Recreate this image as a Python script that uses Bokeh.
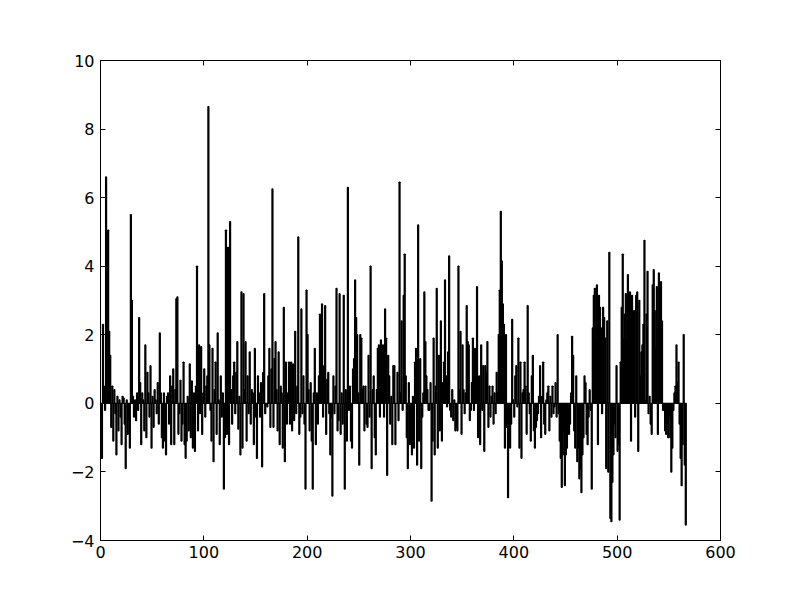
from bokeh.plotting import figure
from bokeh.models import LinearAxis, FixedTicker, Range1d, CustomJSTickFormatter
from bokeh.embed import file_html
from bokeh.resources import INLINE

values = [
    -1.5, -1.6, 2.3, 0.5, -0.2, 6.6, 0.4, 5.05, 2.1, 1.4,
    -0.7, 0.5, -1.1, 0.4, -0.3, -1.5, 0.2, -0.8, 0.1, -0.4,
    -1.2, 0.2, 0.15, -0.6, -1.9, 0.1, -0.9, -0.5, -1.3, 5.5,
    3.0, 0.2, -0.4, 0.1, -0.5, 0.3, -0.2, 2.5, 0.6, -1.2,
    0.3, 0.1, -0.8, 1.7, -1.0, 0.9, 0.3, -0.4, 1.1, -1.3,
    0.2, -0.7, 0.4, 0.1, -0.3, 0.6, -0.6, 2.05, 0.3, -1.0,
    -1.3, 0.3, -1.1, -1.5, 0.2, 0.3, -0.6, 0.8, -1.2, 0.5,
    1.0, -1.2, 0.4, 3.05, 3.1, -0.9, -0.3, 0.67, -1.1, -0.6,
    1.2, -1.2, -1.6, -1.1, 0.2, -0.8, 1.15, -1.0, 0.65, -1.3,
    0.3, -1.4, 0.5, 4.0, -0.8, 1.7, -0.3, 1.65, -0.9, 0.3,
    1.0, -0.4, 0.5, 0.8, 8.65, 1.7, -0.2, -1.1, 1.6, -1.7,
    0.4, 1.2, -0.9, 2.05, 0.1, -1.2, 0.8, -0.4, 0.3, -2.5,
    -1.0, 5.05, -0.9, 4.55, -1.2, 5.3, 0.4, -0.6, 0.8, 1.2,
    -0.3, 0.9, 1.8, -0.75, 0.2, -1.5, 3.25, -1.3, 3.2, 0.4,
    1.8, -1.1, 0.8, -0.3, 1.5, -0.6, 0.4, 0.3, -1.2, 1.6,
    -0.4, -1.6, 0.8, 0.3, -0.4, 0.6, -1.85, 0.9, 3.2, -0.3,
    0.0, -0.1, 0.8, 1.6, -0.7, 1.0, 6.25, -0.7, 1.3, 1.8,
    0.4, -0.8, 1.5, -1.2, 0.5, 0.3, -1.3, 2.8, -1.7, 1.2,
    -0.6, 0.3, 1.2, -0.6, 1.2, -0.8, 1.15, -0.5, 2.1, -0.3,
    0.5, 4.85, -0.9, -0.4, 2.75, -0.3, 0.8, -0.6, -2.5, 3.3,
    2.0, 0.4, -0.8, 0.6, -1.1, -2.5, 0.3, 1.6, -1.2, 0.3,
    -0.6, 0.8, 2.6, 0.2, 2.9, -0.4, 1.1, 2.85, -0.9, 0.7,
    0.9, -0.3, -1.5, -0.4, -2.7, 0.8, -0.3, 0.5, 3.35, -0.8,
    -0.5, 3.2, -0.9, 0.3, -0.6, 3.15, -2.5, 0.4, -1.1, 6.3,
    -0.2, 0.5, -1.1, -1.3, 1.0, 1.3, 3.6, 2.5, 2.0, 0.3,
    -1.8, 2.0, 1.9, 0.4, 0.5, -0.8, 0.5, -0.6, -0.7, 1.4,
    -0.4, 4.0, -1.9, 0.4, 0.8, -1.0, -1.5, 0.4, 1.6, 1.7,
    -0.4, 1.85, 1.6, 1.7, -0.4, 2.75, 1.9, -2.1, 1.4, 0.8,
    -0.6, 0.2, -1.2, 1.1, 1.1, -1.2, 0.0, 0.9, -0.5, 6.45,
    0.3, 2.4, -0.2, 3.15, 4.35, 0.8, -1.0, -1.9, 0.6, -1.2,
    -0.6, -1.5, 0.2, -1.3, 1.2, 1.6, -1.8, 5.2, -1.1, 1.3,
    -1.9, -0.4, 0.3, 3.25, 1.8, 0.8, 0.4, -0.2, -0.2, 0.6,
    -2.85, -1.1, 1.9, -1.5, 0.5, 3.35, -1.3, 1.4, -0.8, 2.4,
    -1.1, 0.6, 1.2, 3.6, 0.8, -0.1, 1.5, 4.3, -0.2, -0.4,
    0.4, -0.5, 0.1, -0.8, -0.7, -0.8, 4.0, 0.4, 2.1, -0.9,
    1.7, 0.4, -0.3, 0.3, 2.85, 1.8, 1.7, -0.5, -0.2, 0.6,
    1.9, -0.2, 1.6, 0.5, 3.4, -1.0, 0.8, -1.2, 1.7, -0.2,
    1.1, -1.4, 1.1, 0.9, 1.8, -0.7, 0.5, -0.4, 0.2, 0.5,
    -0.6, 0.3, -0.3, 0.9, 0.3, 2.0, 3.3, 5.6, 4.15, 2.9,
    2.3, -1.3, 2.0, -0.7, -2.75, -0.6, -1.3, -0.6, 2.45, 0.1,
    -0.4, 0.8, 1.1, -0.1, 1.9, -1.3, 1.2, -1.6, 0.3, 0.4,
    1.2, 0.5, -0.9, 2.85, 0.3, -0.3, -1.1, 0.8, 1.4, -0.8,
    -1.3, -0.7, -0.5, -0.3, 0.2, 1.1, -1.0, 0.2, 1.2, -0.6,
    -0.9, 0.1, 0.3, 0.5, -0.8, 0.2, -0.4, 0.5, -0.3, -0.1,
    0.6, -0.4, 2.0, -0.3, -1.1, -1.6, -2.45, -1.5, -0.8, -2.4,
    -1.5, -1.3, -0.8, -0.9, -0.6, 0.3, 1.95, 1.4, -0.8, -1.3,
    0.8, -1.7, -1.3, -2.2, -1.9, -2.6, -1.5, -1.0, 0.8, 0.6,
    -0.9, -1.2, -0.4, 0.4, -0.2, -2.5, 2.2, 3.15, 3.35, 1.8,
    3.45, -1.2, 3.15, 2.8, 2.2, -0.3, 2.8, 2.5, 1.9, -1.9,
    2.4, -2.0, 4.4, -3.35, -3.45, -2.3, -1.5, -0.6, -1.0, 1.1,
    -1.4, -1.2, -3.4, 1.2, 2.8, 4.35, 1.9, 2.6, 3.2, 1.8,
    3.75, 1.6, 3.25, -1.1, 3.15, 1.0, 2.7, -0.4, 3.15, 3.25,
    -1.4, 3.0, 0.8, 1.5, 1.7, 2.3, 4.75, 0.1, 2.6, 3.85,
    -0.3, 0.2, -0.6, -0.9, 3.45, 3.9, 2.7, 1.6, 3.4, -0.9,
    3.8, 2.1, 3.55, 2.4, -0.2, -0.1, -0.8, -0.9, -0.6, -1.0,
    -0.4, -1.0, -2.0, -1.3, -0.2, 0.3, 0.5, 1.7, 0.6, 1.2,
    -0.6, -1.6, -2.4, -1.2, 2.0, -1.8, -3.55,
]
indices = list(range(len(values)))
x_ticks = [0, 100, 200, 300, 400, 500, 600]
y_ticks = [-4, -2, 0, 2, 4, 6, 8, 10]
y_labels = {-4: "\u22124", -2: "\u22122"}

bar_width = 0.8
p = figure(width=784, height=584,
           x_range=Range1d(0, 600), y_range=Range1d(-4, 10),
           output_backend="svg", toolbar_location=None,
           min_border_left=100, min_border_right=64,
           min_border_top=60, min_border_bottom=44)
p.grid.visible = False
p.outline_line_color = "black"
p.outline_line_width = 1
p.background_fill_color = "white"
p.border_fill_color = "white"

p.vbar(x=[i + bar_width / 2 for i in indices], top=values, bottom=0,
       width=bar_width, fill_color="black", line_color="black", line_width=1.4)

def style(ax, ticks, standoff, show_labels=True, overrides=None):
    ax.ticker = FixedTicker(ticks=ticks)
    ax.major_tick_in = 5
    ax.major_tick_out = 0
    ax.minor_tick_line_color = None
    ax.axis_line_color = "black"
    ax.major_tick_line_color = "black"
    ax.major_label_text_font = "DejaVu Sans"
    ax.major_label_text_font_size = "16px"
    ax.major_label_text_color = "black"
    ax.major_label_standoff = standoff
    if overrides:
        ax.major_label_overrides = overrides
    if not show_labels:
        ax.formatter = CustomJSTickFormatter(code="return ''")

style(p.xaxis[0], x_ticks, 5)
style(p.yaxis[0], y_ticks, 6, overrides=y_labels)

top_axis = LinearAxis()
style(top_axis, x_ticks, 2, show_labels=False)
p.add_layout(top_axis, "above")
right_axis = LinearAxis()
style(right_axis, y_ticks, 2, show_labels=False)
p.add_layout(right_axis, "right")

open("out.html", "w").write(file_html(p, INLINE))
